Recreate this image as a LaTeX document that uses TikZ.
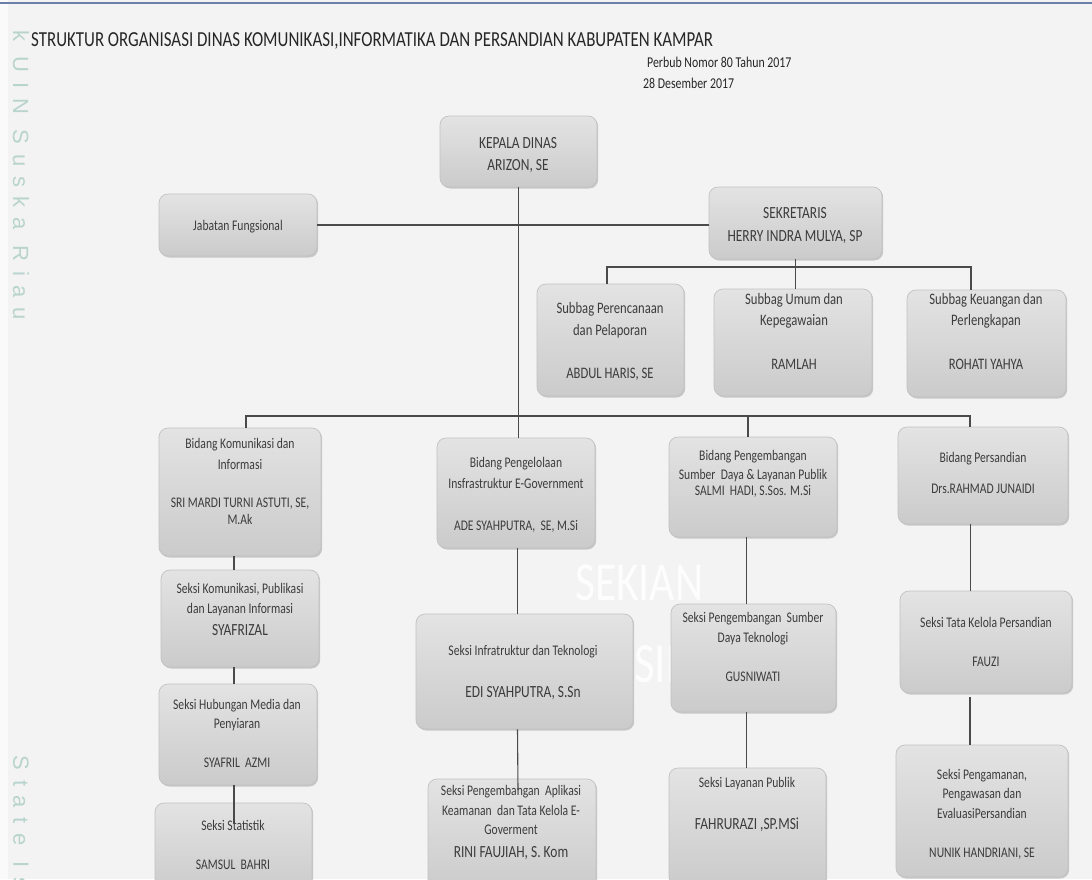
\documentclass[tikz,border=0pt]{standalone}
\usepackage{fontspec}
\setmainfont[FakeStretch=0.79]{Carlito}
\newfontfamily\wmfont[LetterSpace=44]{Liberation Sans}
\usetikzlibrary{shadows}
\definecolor{bgc}{HTML}{F3F3F3}
\definecolor{boxtop}{HTML}{E3E3E3}
\definecolor{boxbot}{HTML}{CBCBCB}
\definecolor{boxline}{HTML}{C2C2C2}
\definecolor{linec}{HTML}{4A4A4A}
\definecolor{txtc}{HTML}{3C3C3C}
\definecolor{wmc}{HTML}{B8D4CC}
\definecolor{toplinec}{HTML}{6A80A8}
\newcounter{tln}
\newcommand{\orgbox}[5]{%
  \pgfmathsetmacro\obx{(#2+#4)/2}%
  \pgfmathsetmacro\oby{(#3+#5)/2}%
  \pgfmathsetmacro\obw{#4-#2}%
  \pgfmathsetmacro\obh{#5-#3}%
  \node[obox,minimum width=\obw pt,minimum height=\obh pt] (#1) at (\obx,\oby) {};}
\newcommand{\orgtext}[4][tn]{\stepcounter{tln}\node[#1] (tl\arabic{tln}) at (#2,#3) {#4};}
\begin{document}
\begin{tikzpicture}[x=1pt,y=-1pt,
  obox/.style={draw=boxline, line width=0.7pt, rounded corners=9pt, top color=boxtop, bottom color=boxbot, inner sep=0pt,
    drop shadow={shadow xshift=1.2pt, shadow yshift=-1.5pt, opacity=0.18, fill=black}},
  tn/.style={text=txtc, anchor=base, inner sep=0pt, font=\fontsize{14.7}{17}\selectfont},
  tm/.style={tn, font=\fontsize{16}{19}\selectfont},
  tbig/.style={tn, font=\fontsize{17}{20}\selectfont},
  wmark/.style={rotate=-90, anchor=center, inner sep=0pt, text=wmc, font=\wmfont\fontsize{22}{22}\selectfont},
  conn/.style={draw=linec, line width=1.1pt}]
\useasboundingbox (0,0) rectangle (1092,879);
\clip (0,0) rectangle (1092,879);
\fill[bgc] (0,0) rectangle (1092,879);
\fill[white!60!bgc] (0,0) rectangle (8,879);
\draw[toplinec, line width=1.5pt] (0,3) -- (1092,3);
% watermark
\node[wmark] (wm1) at (21,175) {k UIN Suska Riau};
\node[wmark] (wm2) at (21,822) {State Is};
\node[anchor=base west, inner sep=0pt, text=white, opacity=0.85, font=\fontsize{55}{55}\selectfont] (wm3) at (575,600) {SEKIAN};
\node[anchor=base west, inner sep=0pt, text=white, opacity=0.85, font=\fontsize{57}{57}\selectfont] (wm4) at (430,682) {TERIMA KASIH};
% title
\node[anchor=base west, inner sep=0pt, text=black!85, font=\fontsize{21.4}{25}\selectfont] (title) at (31,46) {STRUKTUR ORGANISASI DINAS KOMUNIKASI,INFORMATIKA DAN PERSANDIAN KABUPATEN KAMPAR};
\node[anchor=base west, inner sep=0pt, text=black!85, font=\fontsize{15}{18}\selectfont] (perbub) at (647,67) {Perbub Nomor 80 Tahun 2017};
\node[anchor=base west, inner sep=0pt, text=black!85, font=\fontsize{15}{18}\selectfont] (tgl) at (643,88) {28 Desember 2017};
% boxes
\orgbox{kepala}{440}{116}{597}{187}
\orgbox{jabatan}{159}{194}{317}{256}
\orgbox{sekretaris}{709}{187}{882}{259}
\orgbox{perencanaan}{537}{284}{684}{396}
\orgbox{umum}{714}{289}{872}{396}
\orgbox{keuangan}{907}{290}{1066}{397}
\orgbox{bkom}{159}{428}{321}{556}
\orgbox{bkelola}{437}{438}{595}{548}
\orgbox{bpeng}{669}{437}{837}{537}
\orgbox{bsandi}{898}{427}{1068}{524}
\orgbox{skom}{161}{570}{319}{667}
\orgbox{shub}{159}{684}{317}{785}
\orgbox{sstat}{155}{803}{312}{892}
\orgbox{sinfra}{416}{614}{633}{729}
\orgbox{sapl}{428}{779}{596}{892}
\orgbox{ssdt}{671}{604}{836}{712}
\orgbox{slay}{669}{768}{826}{886}
\orgbox{stk}{900}{591}{1072}{693}
\orgbox{spam}{896}{745}{1068}{877}
% connectors
\coordinate (sbL) at (607,267);
\coordinate (sbR) at (971,267);
\coordinate (bbL) at (246,416);
\coordinate (bbM) at (748,416);
\coordinate (bbR) at (970,416);
\coordinate (c1) at (234,0);
\coordinate (c2) at (517.5,0);
\coordinate (c3) at (746.5,0);
\coordinate (c4) at (970.5,0);
\coordinate (statin) at (234,823);
\coordinate (aplin) at (518,790);
\coordinate (tkgap) at (970,697);
\draw[conn] (kepala.south) -- (kepala.south |- bkelola.north);
\draw[conn] (jabatan.east) -- (jabatan.east -| sekretaris.west);
\draw[conn] (sekretaris.south) -- (sekretaris.south |- umum.north);
\draw[conn] (sbL |- perencanaan.north) -- (sbL) -- (sbR) -- (sbR |- keuangan.north);
\draw[conn] (bbL |- bkom.north) -- (bbL) -- (bbR) -- (bbR |- bsandi.north);
\draw[conn] (bbM) -- (bbM |- bpeng.north);
\draw[conn] (c1 |- bkom.south) -- (c1 |- skom.north);
\draw[conn] (c1 |- skom.south) -- (c1 |- shub.north);
\draw[conn] (c1 |- shub.south) -- (statin);
\draw[conn] (c2 |- bkelola.south) -- (c2 |- sinfra.north);
\draw[conn] (c2 |- sinfra.south) -- (aplin);
\draw[conn] (c3 |- bpeng.south) -- (c3 |- ssdt.north);
\draw[conn] (c3 |- ssdt.south) -- (c3 |- slay.north);
\draw[conn] (c4 |- bsandi.south) -- (c4 |- stk.north);
\draw[conn] (tkgap) -- (tkgap |- spam.north);
% texts
\orgtext[tbig]{518}{148}{KEPALA DINAS}
\orgtext[tbig]{518}{170}{ARIZON, SE}
\orgtext{238}{230}{Jabatan Fungsional}
\orgtext[tbig]{795}{218}{SEKRETARIS}
\orgtext[tbig]{795}{241}{HERRY INDRA MULYA, SP}
\orgtext[tm]{610}{313}{Subbag Perencanaan}
\orgtext[tm]{610}{335}{dan Pelaporan}
\orgtext[tm]{610}{378}{ABDUL HARIS, SE}
\orgtext[tm]{794}{304}{Subbag Umum dan}
\orgtext[tm]{794}{325}{Kepegawaian}
\orgtext[tm]{794}{369}{RAMLAH}
\orgtext[tm]{986}{304}{Subbag Keuangan dan}
\orgtext[tm]{986}{325}{Perlengkapan}
\orgtext[tm]{986}{369}{ROHATI YAHYA}
\orgtext{240}{448}{Bidang Komunikasi dan}
\orgtext{240}{469}{Informasi}
\orgtext{240}{507}{SRI MARDI TURNI ASTUTI, SE,}
\orgtext{240}{524}{M.Ak}
\orgtext{516}{467}{Bidang Pengelolaan}
\orgtext{516}{488}{Insfrastruktur E-Government}
\orgtext{516}{530}{ADE SYAHPUTRA,\ \ SE, M.Si}
\orgtext{753}{460}{Bidang Pengembangan}
\orgtext{753}{479}{Sumber\ \ Daya \& Layanan Publik}
\orgtext{753}{495}{SALMI\ \ HADI, S.Sos. M.Si}
\orgtext{983}{462}{Bidang Persandian}
\orgtext{983}{493}{Drs.RAHMAD JUNAIDI}
\orgtext{240}{593}{Seksi Komunikasi, Publikasi}
\orgtext{240}{613}{dan Layanan Informasi}
\orgtext[tbig]{240}{635}{SYAFRIZAL}
\orgtext{237}{709}{Seksi Hubungan Media dan}
\orgtext{237}{728}{Penyiaran}
\orgtext{237}{767}{SYAFRIL\ \ AZMI}
\orgtext{233}{830}{Seksi Statistik}
\orgtext{233}{869}{SAMSUL\ \ BAHRI}
\orgtext{523}{655}{Seksi Infratruktur dan Teknologi}
\orgtext[tbig]{523}{697}{EDI SYAHPUTRA, S.Sn}
\orgtext{511}{795}{Seksi Pengembangan\ \ Aplikasi}
\orgtext{511}{815}{Keamanan\ \ dan Tata Kelola E-}
\orgtext{511}{834}{Goverment}
\orgtext[tbig]{511}{857}{RINI FAUJIAH, S. Kom}
\orgtext{753}{622}{Seksi Pengembangan\ \ Sumber}
\orgtext{753}{642}{Daya Teknologi}
\orgtext{753}{681}{GUSNIWATI}
\orgtext{747}{787}{Seksi Layanan Publik}
\orgtext[tbig]{747}{829}{FAHRURAZI ,SP.MSi}
\orgtext{986}{627}{Seksi Tata Kelola Persandian}
\orgtext{986}{666}{FAUZI}
\orgtext{982}{779}{Seksi Pengamanan,}
\orgtext{982}{798}{Pengawasan dan}
\orgtext{982}{818}{EvaluasiPersandian}
\orgtext{982}{857}{NUNIK HANDRIANI, SE}
\end{tikzpicture}
\end{document}
